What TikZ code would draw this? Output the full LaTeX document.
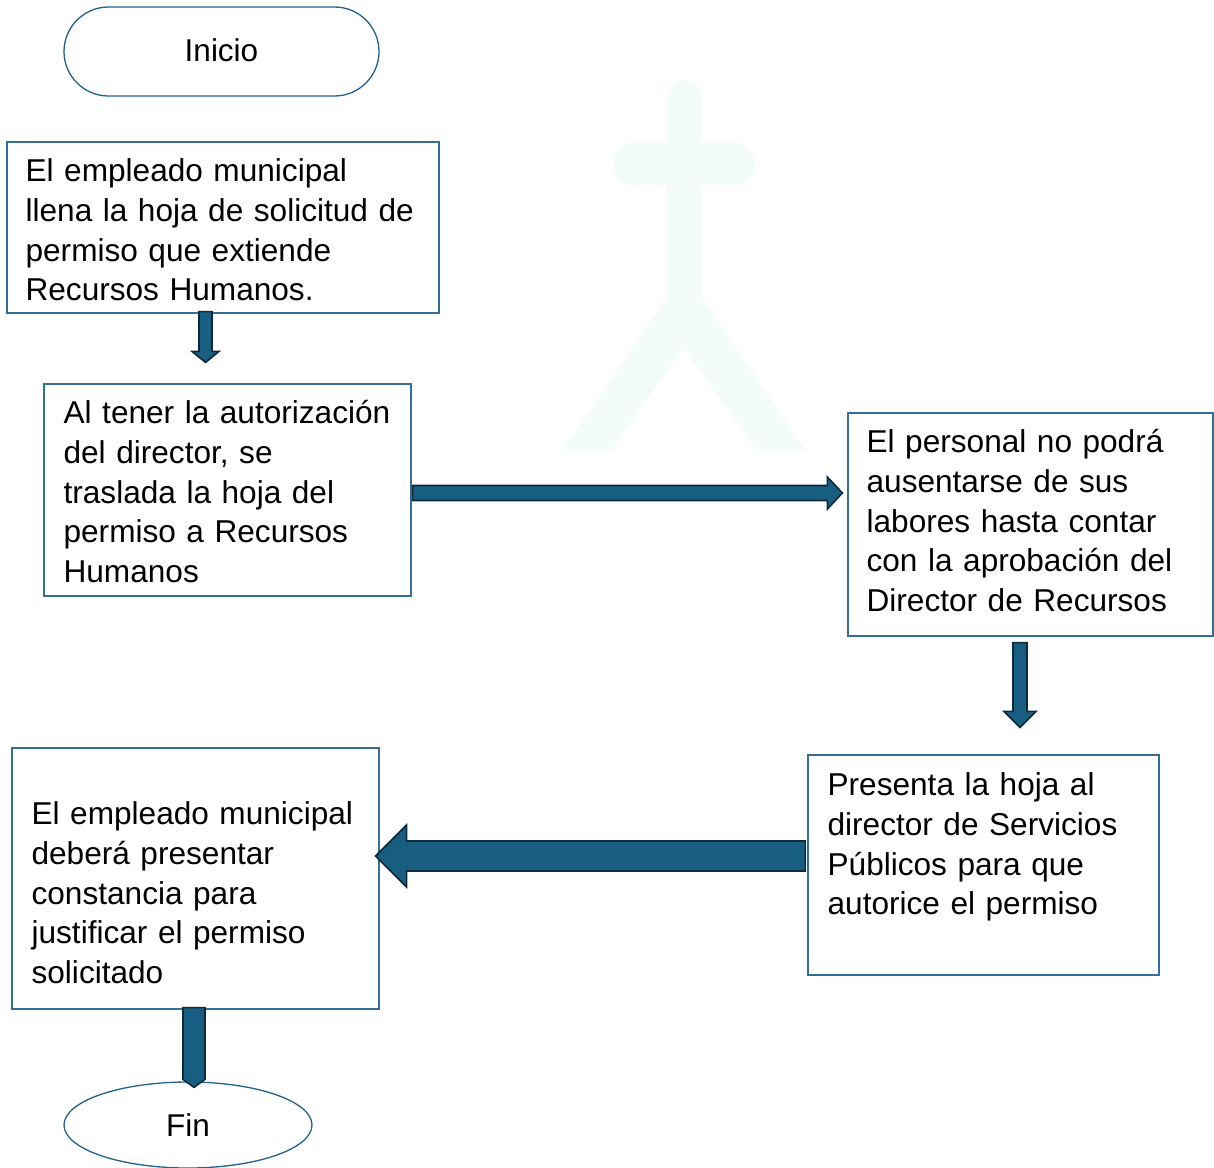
\documentclass[tikz,border=0pt]{standalone}
\usepackage{fontspec}
\setmainfont{Liberation Sans}
\usetikzlibrary{shapes.geometric,calc}
\definecolor{boxc}{RGB}{52,112,150}
\definecolor{termc}{RGB}{35,98,140}
\definecolor{arfill}{RGB}{24,94,128}
\definecolor{arline}{RGB}{14,42,58}
\definecolor{wm}{RGB}{244,251,251}
\newcommand\arrdown[5]{%
  \filldraw[ar] ($(#1)+(-#3,0)$) -- ($(#2)+(-#3,-#5)$) -- ($(#2)+(-#4,-#5)$) -- (#2) -- ($(#2)+(#4,-#5)$) -- ($(#2)+(#3,-#5)$) -- ($(#1)+(#3,0)$) -- cycle;}
\newcommand\arrright[5]{%
  \filldraw[ar] ($(#1)+(0,-#3)$) -- ($(#2)+(-#5,-#3)$) -- ($(#2)+(-#5,-#4)$) -- (#2) -- ($(#2)+(-#5,#4)$) -- ($(#2)+(-#5,#3)$) -- ($(#1)+(0,#3)$) -- cycle;}
\newcommand\arrleft[5]{%
  \filldraw[ar] ($(#1)+(0,-#3)$) -- ($(#2)+(#5,-#3)$) -- ($(#2)+(#5,-#4)$) -- (#2) -- ($(#2)+(#5,#4)$) -- ($(#2)+(#5,#3)$) -- ($(#1)+(0,#3)$) -- cycle;}
\begin{document}
\begin{tikzpicture}[x=1pt,y=-1pt,
  box/.style={draw=boxc, line width=1.2pt, rectangle, inner sep=0pt},
  term/.style={draw=termc, line width=1.3pt, inner sep=0pt, font=\fontsize{31.5pt}{36pt}\selectfont},
  txt/.style={inner sep=0pt, anchor=north west, align=left, text width=440pt, font=\fontsize{31.6pt}{39.7pt}\selectfont},
  ar/.style={fill=arfill, draw=arline, line width=1.6pt, line join=miter}]
\useasboundingbox (0,0) rectangle (1214,1167);
\fill[white] (0,0) rectangle (1214,1167);
% watermark
\fill[wm] (667,330) -- (667,97.5) arc (180:360:17.5) -- (702,330) -- cycle;
\fill[wm, rounded corners=20pt] (613,143) rectangle (755,185);
\fill[wm] (665,300) -- (704,300) -- (805,450) -- (757,450) -- (683,347) -- (612,450) -- (563,450) -- cycle;
% terminals
\node[term, rounded corners=44.5pt, minimum width=315pt, minimum height=89pt] (ini) at (221.5,51.5) {\raisebox{2pt}{Inicio}};
\node[term, ellipse, minimum width=248pt, minimum height=86pt] (fin) at (188,1125) {Fin};
% boxes
\node[box, minimum width=432pt, minimum height=171pt] (b1) at (223,227.5) {};
\node[box, minimum width=367pt, minimum height=212pt] (b2) at (227.5,490) {};
\node[box, minimum width=365pt, minimum height=223pt] (b3) at (1030.5,524.5) {};
\node[box, minimum width=351pt, minimum height=220pt] (b4) at (983.5,865) {};
\node[box, minimum width=367pt, minimum height=261pt] (b5) at (195.5,878.5) {};
% texts
\node[txt] (t1) at ($(b1.north west)+(19,12)$) {\rule{0pt}{28pt}El empleado municipal\\llena la hoja de solicitud de\\permiso que extiende\\Recursos Humanos.};
\node[txt] (t2) at ($(b2.north west)+(20,12)$) {\rule{0pt}{28pt}Al tener la autorización\\del director, se\\traslada la hoja del\\permiso a Recursos\\Humanos};
\node[txt] (t3) at ($(b3.north west)+(19,12)$) {\rule{0pt}{28pt}El personal no podrá\\ausentarse de sus\\labores hasta contar\\con la aprobación del\\Director de Recursos};
\node[txt] (t4) at ($(b4.north west)+(20,13)$) {\rule{0pt}{28pt}Presenta la hoja al\\director de Servicios\\Públicos para que\\autorice el permiso};
\node[txt] (t5) at ($(b5.north west)+(20,49)$) {\rule{0pt}{28pt}El empleado municipal\\deberá presentar\\constancia para\\justificar el permiso\\solicitado};
% connectors
\coordinate (a1s) at ($(b1.south)+(-17.5,-2)$);
\coordinate (a1t) at ($(a1s |- b2.north)+(0,-21)$);
\arrdown{a1s}{a1t}{6.5}{13.5}{11}
\coordinate (a2s) at ($(b2.east)+(1,3)$);
\coordinate (a2t) at ($(a2s -| b3.west)+(-5,0)$);
\arrright{a2s}{a2t}{7.5}{16}{15}
\coordinate (a3s) at ($(b3.south)+(-10.5,6)$);
\coordinate (a3t) at ($(a3s |- b4.north)+(0,-27)$);
\arrdown{a3s}{a3t}{7}{16}{16}
\coordinate (a4s) at ($(b4.west)+(-2,-9)$);
\coordinate (a4t) at ($(a4s -| b5.east)+(-4,0)$);
\arrleft{a4s}{a4t}{15}{31}{31}
\coordinate (a5s) at ($(b5.south)+(-1.5,-2)$);
\coordinate (a5t) at ($(a5s |- fin.north)+(0,6)$);
\arrdown{a5s}{a5t}{11}{11}{8}
\end{tikzpicture}
\end{document}
